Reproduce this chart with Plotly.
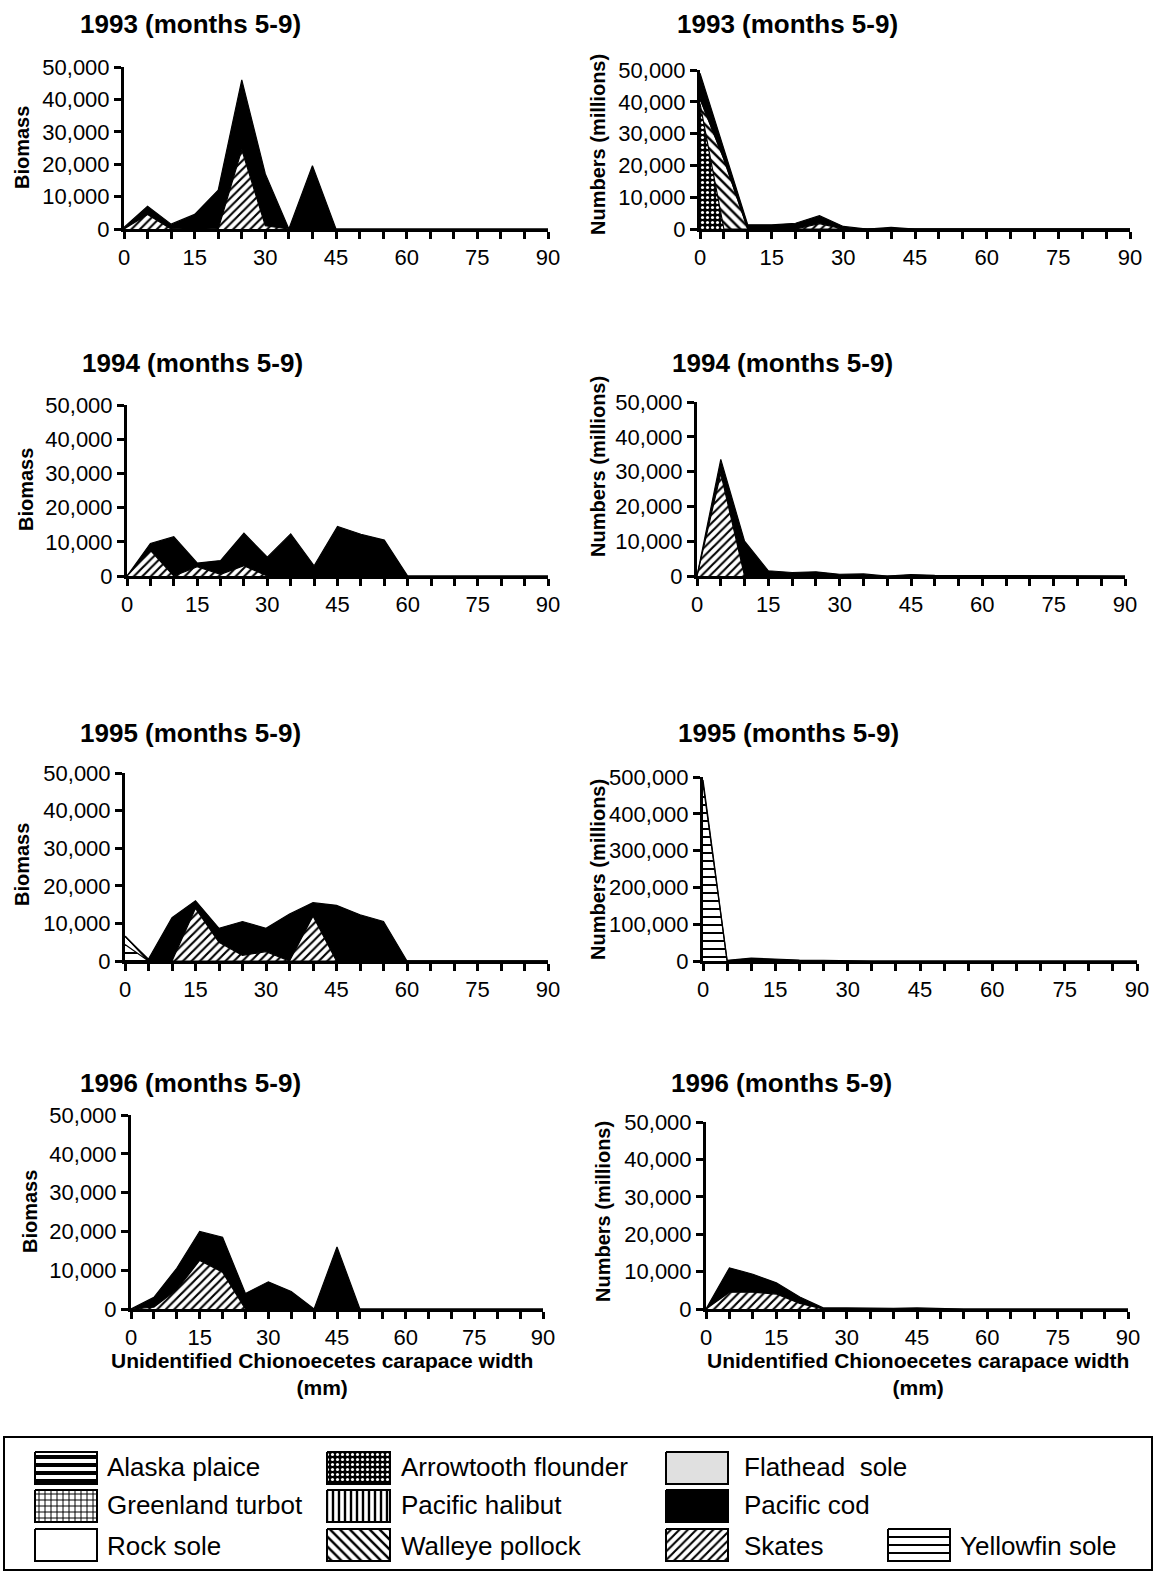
import plotly.graph_objects as go

# ---------------- data ----------------
widths = [0, 5, 10, 15, 20, 25, 30, 35, 40, 45, 50, 55, 60, 65, 70, 75, 80, 85, 90]
width_labels = ["0", "", "", "15", "", "", "30", "", "", "45", "", "", "60", "", "", "75", "", "", "90"]

ticks_50k = [0, 10000, 20000, 30000, 40000, 50000]
ticks_50k_text = ["0", "10,000", "20,000", "30,000", "40,000", "50,000"]
ticks_500k = [0, 100000, 200000, 300000, 400000, 500000]
ticks_500k_text = ["0", "100,000", "200,000", "300,000", "400,000", "500,000"]

species = ["Alaska plaice", "Arrowtooth flounder", "Flathead  sole",
           "Greenland turbot", "Pacific halibut", "Pacific cod",
           "Rock sole", "Walleye pollock", "Skates", "Yellowfin sole"]

# 1993 biomass
bio93_skates = [0, 4500, 0, 300, 0, 24500, 1000, 0, 0, 0, 0, 0, 0, 0, 0, 0, 0, 0, 0]
bio93_cod = [500, 2500, 1500, 4200, 12000, 21500, 16000, 0, 19500, 0, 0, 0, 0, 0, 0, 0, 0, 0, 0]
# 1993 numbers
num93_arrowtooth = [39500, 0, 0, 0, 0, 0, 0, 0, 0, 0, 0, 0, 0, 0, 0, 0, 0, 0, 0]
num93_walleye = [1500, 22000, 0, 0, 0, 0, 0, 0, 0, 0, 0, 0, 0, 0, 0, 0, 0, 0, 0]
num93_skates = [0, 0, 0, 0, 0, 1700, 0, 0, 0, 0, 0, 0, 0, 0, 0, 0, 0, 0, 0]
num93_cod = [8000, 3000, 1300, 1300, 1800, 2500, 800, 0, 500, 0, 0, 0, 0, 0, 0, 0, 0, 0, 0]
# 1994 biomass
bio94_skates = [0, 7500, 0, 2700, 500, 3000, 0, 0, 0, 0, 0, 0, 0, 0, 0, 0, 0, 0, 0]
bio94_cod = [0, 2000, 11500, 1100, 4000, 9500, 5500, 12300, 3000, 14500, 12200, 10500, 0, 0, 0, 0, 0, 0, 0]
# 1994 numbers
num94_skates = [0, 29500, 0, 0, 0, 0, 0, 0, 0, 0, 0, 0, 0, 0, 0, 0, 0, 0, 0]
num94_cod = [0, 4000, 10000, 1500, 1000, 1200, 500, 600, 0, 400, 200, 200, 0, 0, 0, 0, 0, 0, 0]
# 1995 biomass
bio95_yellowfin = [4400, 0, 0, 0, 0, 0, 0, 0, 0, 0, 0, 0, 0, 0, 0, 0, 0, 0, 0]
bio95_rocksole = [2200, 0, 0, 0, 0, 0, 0, 0, 0, 0, 0, 0, 0, 0, 0, 0, 0, 0, 0]
bio95_skates = [0, 0, 0, 14000, 5000, 1500, 2500, 0, 12000, 0, 0, 0, 0, 0, 0, 0, 0, 0, 0]
bio95_cod = [0, 500, 11500, 2000, 3700, 9000, 6200, 12500, 3500, 14800, 12300, 10500, 0, 0, 0, 0, 0, 0, 0]
# 1995 numbers
num95_yellowfin = [482000, 0, 0, 0, 0, 0, 0, 0, 0, 0, 0, 0, 0, 0, 0, 0, 0, 0, 0]
num95_cod = [10000, 2000, 8000, 5000, 2500, 2000, 500, 0, 0, 0, 0, 0, 0, 0, 0, 0, 0, 0, 0]
# 1996 biomass
bio96_skates = [0, 500, 5000, 12500, 9500, 0, 0, 0, 0, 0, 0, 0, 0, 0, 0, 0, 0, 0, 0]
bio96_cod = [0, 2500, 5500, 7500, 9000, 4000, 7000, 4500, 0, 16000, 0, 0, 0, 0, 0, 0, 0, 0, 0]
# 1996 numbers
num96_skates = [0, 4500, 4500, 4000, 1500, 0, 0, 0, 0, 0, 0, 0, 0, 0, 0, 0, 0, 0, 0]
num96_cod = [0, 6500, 4800, 3000, 1700, 300, 300, 200, 200, 300, 100, 0, 0, 0, 0, 0, 0, 0, 0]

# ---------------- geometry / styles ----------------
W, H = 1156, 1571
FONT = "Liberation Sans, Arial, sans-serif"

styles = {
    "Alaska plaice": dict(fillcolor="white", fillpattern=dict(shape="-", fgcolor="black", bgcolor="white", size=8, solidity=0.5)),
    "Arrowtooth flounder": dict(fillcolor="black", fillpattern=dict(shape=".", fgcolor="white", bgcolor="black", size=5, solidity=0.3)),
    "Flathead  sole": dict(fillcolor="#e0e0e0"),
    "Greenland turbot": dict(fillcolor="white", fillpattern=dict(shape="+", fgcolor="black", bgcolor="white", size=6, solidity=0.3)),
    "Pacific halibut": dict(fillcolor="white", fillpattern=dict(shape="|", fgcolor="black", bgcolor="white", size=6, solidity=0.4)),
    "Pacific cod": dict(fillcolor="black"),
    "Rock sole": dict(fillcolor="white"),
    "Walleye pollock": dict(fillcolor="white", fillpattern=dict(shape="\\", fgcolor="black", bgcolor="white", size=7, solidity=0.35)),
    "Skates": dict(fillcolor="white", fillpattern=dict(shape="/", fgcolor="black", bgcolor="white", size=6, solidity=0.35)),
    "Yellowfin sole": dict(fillcolor="white", fillpattern=dict(shape="-", fgcolor="black", bgcolor="white", size=8, solidity=0.25)),
}

# panels: (series bottom->top, is_500k, pixel box [left, right, top, bottom], title, y title, title pos, ytitle pos)
panels = [
    ([("Skates", bio93_skates), ("Pacific cod", bio93_cod)], False, (124, 548, 67, 229),
     "1993 (months 5-9)", "Biomass", (190, 24), (22, 148)),
    ([("Arrowtooth flounder", num93_arrowtooth), ("Walleye pollock", num93_walleye), ("Skates", num93_skates), ("Pacific cod", num93_cod)], False, (700, 1130, 70, 229),
     "1993 (months 5-9)", "Numbers (millions)", (787, 24), (598, 145)),
    ([("Skates", bio94_skates), ("Pacific cod", bio94_cod)], False, (127, 548, 405, 576),
     "1994 (months 5-9)", "Biomass", (192, 363), (26, 490)),
    ([("Skates", num94_skates), ("Pacific cod", num94_cod)], False, (697, 1125, 402, 576),
     "1994 (months 5-9)", "Numbers (millions)", (782, 363), (598, 467)),
    ([("Yellowfin sole", bio95_yellowfin), ("Rock sole", bio95_rocksole), ("Skates", bio95_skates), ("Pacific cod", bio95_cod)], False, (125, 548, 773, 961),
     "1995 (months 5-9)", "Biomass", (190, 733), (22, 865)),
    ([("Yellowfin sole", num95_yellowfin), ("Pacific cod", num95_cod)], True, (703, 1137, 777, 961),
     "1995 (months 5-9)", "Numbers (millions)", (788, 733), (598, 870)),
    ([("Skates", bio96_skates), ("Pacific cod", bio96_cod)], False, (131, 543, 1115, 1309),
     "1996 (months 5-9)", "Biomass", (190, 1083), (30, 1212)),
    ([("Skates", num96_skates), ("Pacific cod", num96_cod)], False, (706, 1128, 1122, 1309),
     "1996 (months 5-9)", "Numbers (millions)", (781, 1083), (603, 1212)),
]

def px_x(v):
    return v / W

def px_y(v):
    return 1 - v / H

fig = go.Figure()
annotations = []
layout = {}

for i, (series, big, box, title, ytitle, tpos, ypos) in enumerate(panels, start=1):
    xa = "x" if i == 1 else f"x{i}"
    ya = "y" if i == 1 else f"y{i}"
    for name, vals in series:
        st = styles[name]
        kw = dict(x=widths, y=vals, mode="lines", stackgroup=f"s{i}", name=name,
                  line=dict(color="black", width=1.2, shape="linear"),
                  fillcolor=st["fillcolor"], showlegend=False, hoverinfo="skip",
                  xaxis=xa, yaxis=ya)
        if "fillpattern" in st:
            kw["fillpattern"] = st["fillpattern"]
        fig.add_trace(go.Scatter(**kw))
    left, right, top, bottom = box
    tv = ticks_500k if big else ticks_50k
    tt = ticks_500k_text if big else ticks_50k_text
    ymax = 500000 if big else 50000
    xkey = "xaxis" if i == 1 else f"xaxis{i}"
    ykey = "yaxis" if i == 1 else f"yaxis{i}"
    layout[xkey] = dict(domain=[px_x(left), px_x(right)], anchor=ya, range=[0, 90],
                        tickmode="array", tickvals=widths, ticktext=width_labels,
                        ticks="outside", ticklen=7, tickwidth=2.5, tickcolor="black",
                        showline=True, linewidth=3, linecolor="black",
                        showgrid=False, zeroline=False, automargin=False,
                        tickfont=dict(family=FONT, size=22, color="black"))
    layout[ykey] = dict(domain=[px_y(bottom), px_y(top)], anchor=xa, range=[0, ymax],
                        tickmode="array", tickvals=tv, ticktext=tt,
                        ticks="outside", ticklen=7, tickwidth=2.5, tickcolor="black",
                        showline=True, linewidth=3, linecolor="black",
                        showgrid=False, zeroline=False, automargin=False,
                        tickfont=dict(family=FONT, size=22, color="black"))
    # overlay axis so the y ticks cross the axis line
    layout[f"yaxis{i + 8}"] = dict(overlaying=ya, anchor=xa, side="left", range=[0, ymax],
                                   tickmode="array", tickvals=tv, ticks="inside", ticklen=7,
                                   tickwidth=2.5, tickcolor="black", showticklabels=False,
                                   showline=False, showgrid=False, zeroline=False,
                                   automargin=False)
    annotations.append(dict(text=f"<b>{title}</b>", x=px_x(tpos[0]), y=px_y(tpos[1]),
                            xref="paper", yref="paper", xanchor="center", yanchor="middle",
                            showarrow=False, font=dict(family=FONT, size=26, color="black")))
    annotations.append(dict(text=f"<b>{ytitle}</b>", x=px_x(ypos[0]), y=px_y(ypos[1]),
                            xref="paper", yref="paper", xanchor="center", yanchor="middle",
                            textangle=-90, showarrow=False,
                            font=dict(family=FONT, size=20, color="black")))

# x axis titles on bottom row
for cx in (322, 918):
    annotations.append(dict(text="<b>Unidentified Chionoecetes carapace width</b><br><b>(mm)</b>",
                            x=px_x(cx), y=px_y(1374), xref="paper", yref="paper",
                            xanchor="center", yanchor="middle", showarrow=False,
                            font=dict(family=FONT, size=21, color="black")))

# ---------------- legend (custom, pixel-placed) ----------------
LEG_TOP, LEG_BOTTOM = 1437, 1571
layout["xaxis17"] = dict(domain=[0, 1], range=[0, W], visible=False, anchor="y17",
                         fixedrange=True, automargin=False)
layout["yaxis17"] = dict(domain=[0, px_y(LEG_TOP)], range=[LEG_BOTTOM, LEG_TOP], visible=False,
                         anchor="x17", fixedrange=True, automargin=False)

legend_rows = [(1452, 1484, 1467), (1490, 1522, 1505), (1529, 1561, 1546)]
legend_cols = [(35, 97, 105), (327, 390, 399), (666, 728, 742), (888, 950, 958)]
legend_layout = [
    ("Alaska plaice", 0, 0), ("Arrowtooth flounder", 0, 1), ("Flathead  sole", 0, 2),
    ("Greenland turbot", 1, 0), ("Pacific halibut", 1, 1), ("Pacific cod", 1, 2),
    ("Rock sole", 2, 0), ("Walleye pollock", 2, 1), ("Skates", 2, 2), ("Yellowfin sole", 2, 3),
]
for name, r, c in legend_layout:
    y0, y1, yc = legend_rows[r]
    x0, x1, xt = legend_cols[c]
    st = styles[name]
    kw = dict(x=[x0, x1, x1, x0, x0], y=[y0, y0, y1, y1, y0], mode="lines", fill="toself",
              fillcolor=st["fillcolor"], line=dict(color="black", width=2),
              showlegend=False, hoverinfo="skip", xaxis="x17", yaxis="y17")
    if "fillpattern" in st:
        kw["fillpattern"] = st["fillpattern"]
    fig.add_trace(go.Scatter(**kw))
    annotations.append(dict(text=name.replace("  ", "&nbsp; "), x=px_x(xt), y=px_y(yc),
                            xref="paper", yref="paper",
                            xanchor="left", yanchor="middle", showarrow=False,
                            font=dict(family=FONT, size=26, color="black")))

shapes = [dict(type="rect", xref="paper", yref="paper",
               x0=px_x(4), x1=px_x(1152), y0=px_y(1570), y1=px_y(LEG_TOP),
               line=dict(color="black", width=2), fillcolor="rgba(0,0,0,0)")]

fig.update_layout(template="none", width=W, height=H,
                  margin=dict(l=0, r=0, t=0, b=0, pad=0, autoexpand=False),
                  paper_bgcolor="white", plot_bgcolor="rgba(0,0,0,0)",
                  showlegend=False, annotations=annotations, shapes=shapes,
                  font=dict(family=FONT, color="black"), **layout)

fig.write_html("out.html")
